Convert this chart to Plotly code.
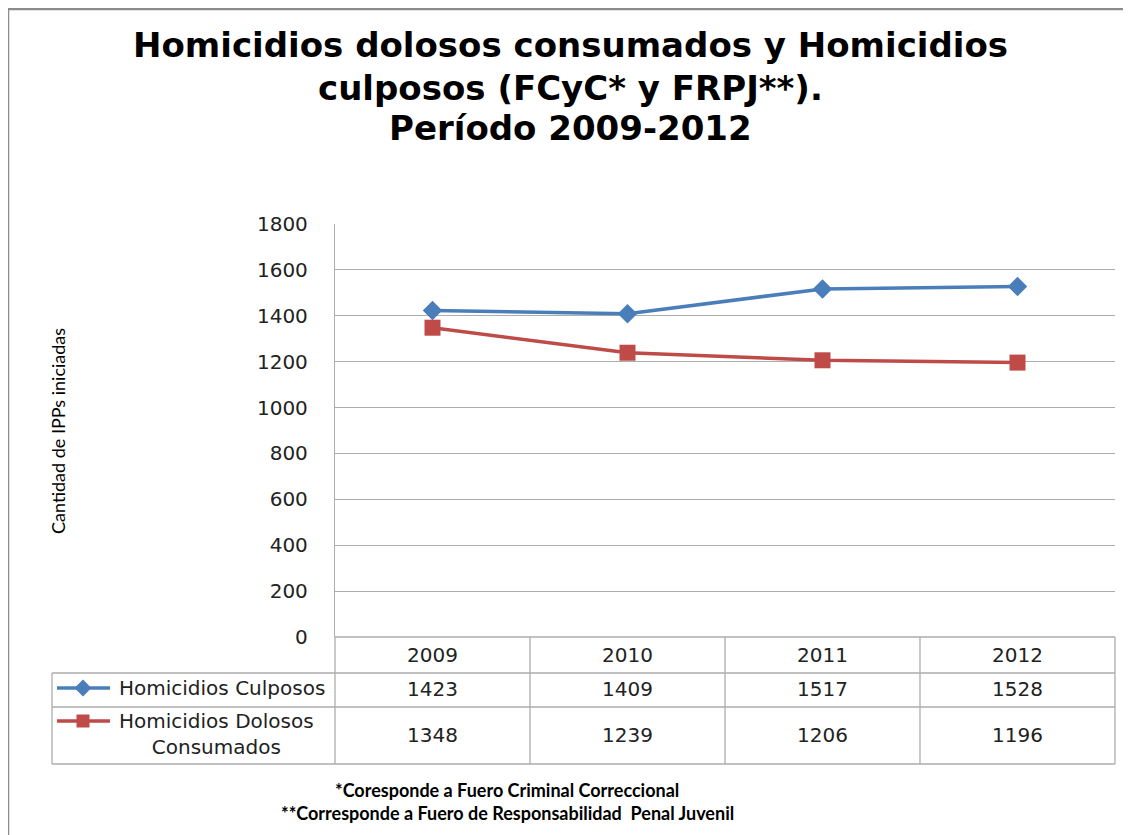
import plotly.graph_objects as go

W, H = 1131, 835

years = ["2009", "2010", "2011", "2012"]
culposos = [1423, 1409, 1517, 1528]
dolosos = [1348, 1239, 1206, 1196]
series_names = ["Homicidios Culposos", "Homicidios Dolosos<br>Consumados"]
y_ticks = [0, 200, 400, 600, 800, 1000, 1200, 1400, 1600, 1800]
title_lines = ["Homicidios dolosos consumados y Homicidios",
               "culposos (FCyC* y FRPJ**).",
               "Período 2009-2012"]
footnotes = ["*Coresponde a Fuero Criminal Correccional",
             "**Corresponde a Fuero de Responsabilidad  Penal Juvenil"]
y_title = "Cantidad de IPPs iniciadas"

BLUE = "#4A7EBB"
RED = "#BE4B48"
GRID = "#ADADAD"
FONT = "DejaVu Sans"
NARROW = "Lato"

# page body margin offset (screen pixel = figure pixel + OFF)
OFF = 8


def fx(x):
    return x - OFF


def fy(y):
    return y - OFF


def px(x):
    return fx(x) / W


def py(y):
    return 1 - fy(y) / H


L, R, T, B = 335, 1115, 224, 637

fig = go.Figure()

# legend glyphs inside the data table (pixel overlay axes)
fig.add_trace(go.Scatter(x=[fx(57), fx(110)], y=[fy(688), fy(688)], mode="lines",
                         line=dict(color=BLUE, width=3.5), xaxis="x2", yaxis="y2",
                         showlegend=False, hoverinfo="skip"))
fig.add_trace(go.Scatter(x=[fx(83)], y=[fy(688)], mode="markers",
                         marker=dict(symbol="diamond", size=13, color=BLUE),
                         xaxis="x2", yaxis="y2", showlegend=False, hoverinfo="skip"))
fig.add_trace(go.Scatter(x=[fx(57), fx(110)], y=[fy(721), fy(721)], mode="lines",
                         line=dict(color=RED, width=3.5), xaxis="x2", yaxis="y2",
                         showlegend=False, hoverinfo="skip"))
fig.add_trace(go.Scatter(x=[fx(83)], y=[fy(721)], mode="markers",
                         marker=dict(symbol="square", size=13, color=RED),
                         xaxis="x2", yaxis="y2", showlegend=False, hoverinfo="skip"))

fig.add_trace(go.Scatter(x=years, y=culposos, mode="lines+markers",
                         line=dict(color=BLUE, width=3.5),
                         marker=dict(symbol="diamond", size=15, color=BLUE),
                         name="Homicidios Culposos", showlegend=False))
fig.add_trace(go.Scatter(x=years, y=dolosos, mode="lines+markers",
                         line=dict(color=RED, width=3.5),
                         marker=dict(symbol="square", size=16, color=RED),
                         name="Homicidios Dolosos Consumados", showlegend=False))

shapes = []


def hline(y, x0, x1, color=GRID, width=1.3):
    shapes.append(dict(type="line", xref="paper", yref="paper",
                       x0=px(x0), x1=px(x1), y0=py(y), y1=py(y),
                       line=dict(color=color, width=width)))


def vline(x, y0, y1, color=GRID, width=1.3):
    shapes.append(dict(type="line", xref="paper", yref="paper",
                       x0=px(x), x1=px(x), y0=py(y0), y1=py(y1),
                       line=dict(color=color, width=width)))


# outer chart border
hline(OFF + 1, OFF, W + OFF, color="#8C8C8C", width=2.5)
vline(OFF, OFF, H + OFF, color="#8C8C8C", width=2.5)

# data table lines
colw = (R - L) / len(years)
for i in range(len(years) + 1):
    vline(L + i * colw, B, 764)
vline(52, 673, 764)
hline(B, L, R)
for yy in (673, 707, 764):
    hline(yy, 52, R)

annotations = []


def ann(text, x, y, font, **kw):
    d = dict(text=text, x=px(x), y=py(y), xref="paper", yref="paper",
             showarrow=False, xanchor="center", yanchor="middle", font=font)
    d.update(kw)
    annotations.append(d)


# title
for txt, yy in zip(title_lines, [45, 88, 128]):
    ann(txt, 570, yy, dict(family=FONT, size=34, color="black", weight="bold"))
# footnotes
for txt, yy in zip(footnotes, [790, 813]):
    ann(txt, 507, yy, dict(family=NARROW, size=18, color="black", weight="bold"))
# y-axis title
ann(y_title, 58, 431, dict(family=NARROW, size=18, color="black"), textangle=-90)
# table texts
tfont = dict(family=FONT, size=20, color="#222222")
for i, yr in enumerate(years):
    cx = L + (i + 0.5) * colw
    ann(yr, cx, 655, tfont)
    ann(str(culposos[i]), cx, 689, tfont)
    ann(str(dolosos[i]), cx, 735, tfont)
ann(series_names[0], 222, 688, tfont, align="center")
ann(series_names[1], 216, 734, tfont, align="center")

fig.update_layout(
    width=W, height=H,
    margin=dict(l=0, r=0, t=0, b=0, autoexpand=False),
    paper_bgcolor="white", plot_bgcolor="rgba(0,0,0,0)",
    shapes=shapes, annotations=annotations, showlegend=False,
    xaxis=dict(domain=[px(L), px(R)], type="category", range=[-0.5, 3.5],
               showticklabels=False, showgrid=False, zeroline=False,
               showline=False, fixedrange=True, automargin=False),
    yaxis=dict(domain=[py(B), py(T)], range=[0, 1800], tickvals=y_ticks,
               showgrid=True, gridcolor=GRID, gridwidth=1.3, zeroline=False,
               showline=True, linecolor=GRID, linewidth=1.3,
               ticks="outside", ticklen=0, ticklabelstandoff=22, automargin=False,
               tickfont=dict(family=FONT, size=20, color="#222222"), fixedrange=True),
    xaxis2=dict(domain=[0, 1], range=[0, W], visible=False, anchor="y2",
                automargin=False, fixedrange=True),
    yaxis2=dict(domain=[0, 1], range=[H, 0], visible=False, anchor="x2",
                automargin=False, fixedrange=True),
)

fig.write_html("out.html")
